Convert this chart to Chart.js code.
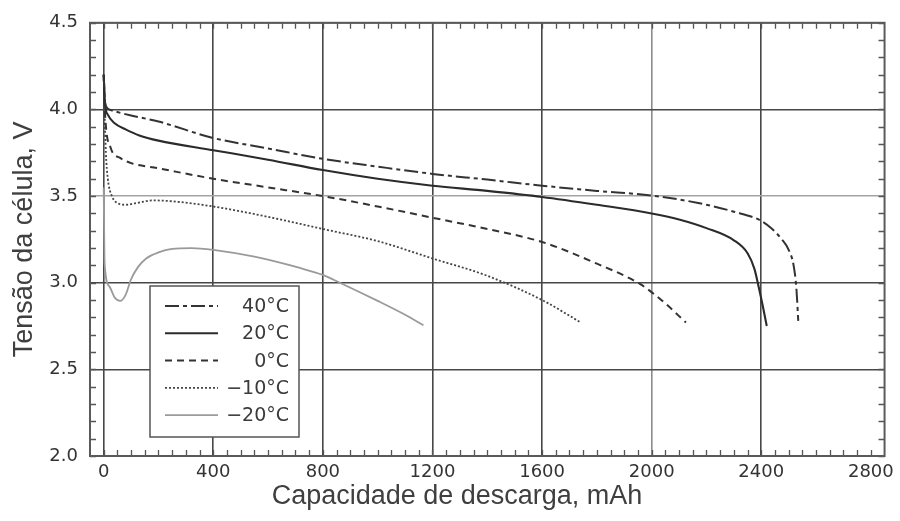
<!DOCTYPE html>
<html>
<head>
<meta charset="utf-8">
<title>Tensão da célula x Capacidade de descarga</title>
<script src="https://cdn.jsdelivr.net/npm/chart.js@4.4.1/dist/chart.umd.min.js"></script>
<style>
    html, body { margin: 0; padding: 0; background: #fff; }
    #wrap { width: 900px; height: 521px; }
</style>
</head>
<body>
<div id="wrap"><canvas id="chart" width="900" height="521"></canvas></div>
<script>
// tick labels
const xTicks = [0, 400, 800, 1200, 1600, 2000, 2400, 2800];
const yTicks = [2.0, 2.5, 3.0, 3.5, 4.0, 4.5];
const seriesLabels = ['40°C', '20°C', '0°C', '−10°C', '−20°C'];

// discharge curves (mAh, V)
const cap40 = [0, 5, 20, 50, 100, 200, 400, 600, 800, 1000, 1200, 1400, 1600, 1800, 2000, 2170, 2300, 2400, 2440, 2475, 2500, 2518, 2528, 2535];
const volt40 = [4.2, 4.04, 4.0, 3.985, 3.965, 3.93, 3.835, 3.775, 3.715, 3.67, 3.628, 3.595, 3.56, 3.53, 3.503, 3.46, 3.41, 3.357, 3.31, 3.25, 3.19, 3.1, 2.97, 2.78];

const cap20 = [0, 5, 15, 40, 80, 130, 200, 400, 600, 800, 1000, 1200, 1400, 1600, 1800, 2000, 2100, 2200, 2300, 2350, 2375, 2390, 2405, 2420];
const volt20 = [4.2, 4.03, 3.97, 3.92, 3.885, 3.85, 3.82, 3.765, 3.71, 3.65, 3.6, 3.56, 3.53, 3.495, 3.45, 3.40, 3.365, 3.315, 3.245, 3.17, 3.08, 2.98, 2.87, 2.75];

const cap0 = [0, 4, 25, 60, 100, 200, 400, 600, 800, 1000, 1200, 1400, 1600, 1800, 1960, 2050, 2125];
const volt0 = [4.2, 4.0, 3.78, 3.72, 3.69, 3.66, 3.6, 3.55, 3.5, 3.44, 3.375, 3.31, 3.235, 3.11, 2.99, 2.88, 2.77];

const capM10 = [0, 3, 8, 15, 30, 50, 80, 120, 180, 250, 400, 600, 800, 1000, 1200, 1400, 1600, 1742];
const voltM10 = [4.2, 4.0, 3.75, 3.6, 3.5, 3.46, 3.45, 3.46, 3.475, 3.47, 3.44, 3.38, 3.31, 3.24, 3.14, 3.04, 2.9, 2.77];

const capM20 = [0, 3, 20, 40, 60, 80, 100, 125, 155, 200, 250, 320, 400, 550, 716, 800, 862, 1000, 1100, 1167];
const voltM20 = [3.55, 3.12, 2.98, 2.915, 2.895, 2.93, 3.02, 3.09, 3.14, 3.175, 3.195, 3.2, 3.19, 3.15, 3.085, 3.045, 3.0, 2.895, 2.815, 2.755];

const toPoints = (xs, ys) => xs.map((x, i) => ({ x: x, y: ys[i] }));

const lineStyles = [
    { color: '#333333', dash: [14, 4, 4, 4], width: 2 },
    { color: '#2b2b2b', dash: [], width: 2.1 },
    { color: '#333333', dash: [7, 5], width: 2 },
    { color: '#444444', dash: [2, 2], width: 1.8 },
    { color: '#9a9a9a', dash: [], width: 1.8 }
];
const seriesData = [
    toPoints(cap40, volt40),
    toPoints(cap20, volt20),
    toPoints(cap0, volt0),
    toPoints(capM10, voltM10),
    toPoints(capM20, voltM20)
];

const datasets = seriesData.map((pts, i) => ({
    label: seriesLabels[i],
    data: pts,
    borderColor: lineStyles[i].color,
    borderDash: lineStyles[i].dash,
    borderWidth: lineStyles[i].width,
    borderCapStyle: 'butt',
    pointRadius: 0,
    fill: false,
    cubicInterpolationMode: 'monotone'
}));

// frame and small inward ticks
const frameTicks = {
    id: 'frameTicks',
    beforeDatasetsDraw(chart) {
        const { ctx, chartArea: a, scales: { x, y } } = chart;
        ctx.save();
        ctx.strokeStyle = '#555';
        ctx.lineWidth = 1.3;
        ctx.beginPath();
        for (let v = 0; v <= 2800; v += 50) {
            const px = Math.round(x.getPixelForValue(v)) + 0.5;
            ctx.moveTo(px, a.bottom); ctx.lineTo(px, a.bottom - 6);
            ctx.moveTo(px, a.top); ctx.lineTo(px, a.top + 6);
        }
        for (let i = 20; i <= 45; i++) {
            const py = Math.round(y.getPixelForValue(i / 10)) + 0.5;
            ctx.moveTo(a.left, py); ctx.lineTo(a.left + 6, py);
            ctx.moveTo(a.right, py); ctx.lineTo(a.right - 6, py);
        }
        ctx.stroke();
        ctx.strokeStyle = '#5a5a5a';
        ctx.lineWidth = 2;
        ctx.strokeRect(a.left, a.top, a.right - a.left, a.bottom - a.top);
        ctx.restore();
    }
};

// legend box drawn inside the plot + x axis title
const boxLegend = {
    id: 'boxLegend',
    afterDatasetsDraw(chart) {
        const ctx = chart.ctx;
        ctx.save();
        ctx.fillStyle = '#fff';
        ctx.fillRect(150, 286, 149, 151);
        ctx.strokeStyle = '#555';
        ctx.lineWidth = 1.5;
        ctx.strokeRect(150, 286, 149, 151);
        ctx.font = '19px "DejaVu Sans"';
        ctx.textAlign = 'right';
        ctx.textBaseline = 'middle';
        chart.data.datasets.forEach((ds, i) => {
            const yy = 306 + i * 27.3;
            ctx.strokeStyle = ds.borderColor;
            ctx.lineWidth = ds.borderWidth;
            ctx.setLineDash(ds.borderDash);
            ctx.beginPath();
            ctx.moveTo(165, yy);
            ctx.lineTo(218, yy);
            ctx.stroke();
            ctx.setLineDash([]);
            ctx.fillStyle = '#3a3a3a';
            ctx.fillText(ds.label, 289, yy + 1);
        });
        ctx.restore();
    },
    afterDraw(chart) {
        const ctx = chart.ctx;
        ctx.save();
        ctx.font = '27px "Liberation Sans", Arial, sans-serif';
        ctx.fillStyle = '#3f3f3f';
        ctx.textAlign = 'center';
        ctx.textBaseline = 'middle';
        ctx.fillText('Capacidade de descarga, mAh', 457, 497);
        ctx.restore();
    }
};

const gridDark = '#474747';

new Chart(document.getElementById('chart').getContext('2d'), {
    type: 'line',
    data: { datasets: datasets },
    options: {
        responsive: false,
        animation: false,
        devicePixelRatio: 1,
        layout: { padding: { top: 18.5, right: 13.5, bottom: 0, left: 0 } },
        plugins: {
            legend: { display: false },
            tooltip: { enabled: false }
        },
        scales: {
            x: {
                type: 'linear',
                min: -50,
                max: 2850,
                afterBuildTicks: axis => { axis.ticks = xTicks.map(v => ({ value: v })); },
                afterFit: axis => { axis.height = 65; },
                grid: {
                    drawTicks: false,
                    lineWidth: 1.6,
                    color: c => c.tick && c.tick.value === 2800 ? 'rgba(0,0,0,0)' :
                        (c.tick && c.tick.value === 2000 ? '#8c8c8c' : gridDark)
                },
                border: { display: false },
                ticks: {
                    padding: 6,
                    color: '#333',
                    font: { family: 'DejaVu Sans', size: 18 },
                    maxRotation: 0,
                    callback: v => String(v)
                }
            },
            y: {
                min: 2.0,
                max: 4.5,
                afterBuildTicks: axis => { axis.ticks = yTicks.map(v => ({ value: v })); },
                afterFit: axis => { axis.width = 90; },
                grid: {
                    drawTicks: false,
                    lineWidth: 1.6,
                    color: c => c.tick && c.tick.value === 3.5 ? '#a3a3a3' : gridDark
                },
                border: { display: false },
                ticks: {
                    padding: 12,
                    color: '#333',
                    font: { family: 'DejaVu Sans', size: 18 },
                    callback: v => v.toFixed(1)
                },
                title: {
                    display: true,
                    text: 'Tensão da célula, V',
                    color: '#3f3f3f',
                    font: { family: 'Liberation Sans', size: 27 },
                    padding: { top: 8, bottom: 0 }
                }
            }
        }
    },
    plugins: [frameTicks, boxLegend]
});
</script>
</body>
</html>
